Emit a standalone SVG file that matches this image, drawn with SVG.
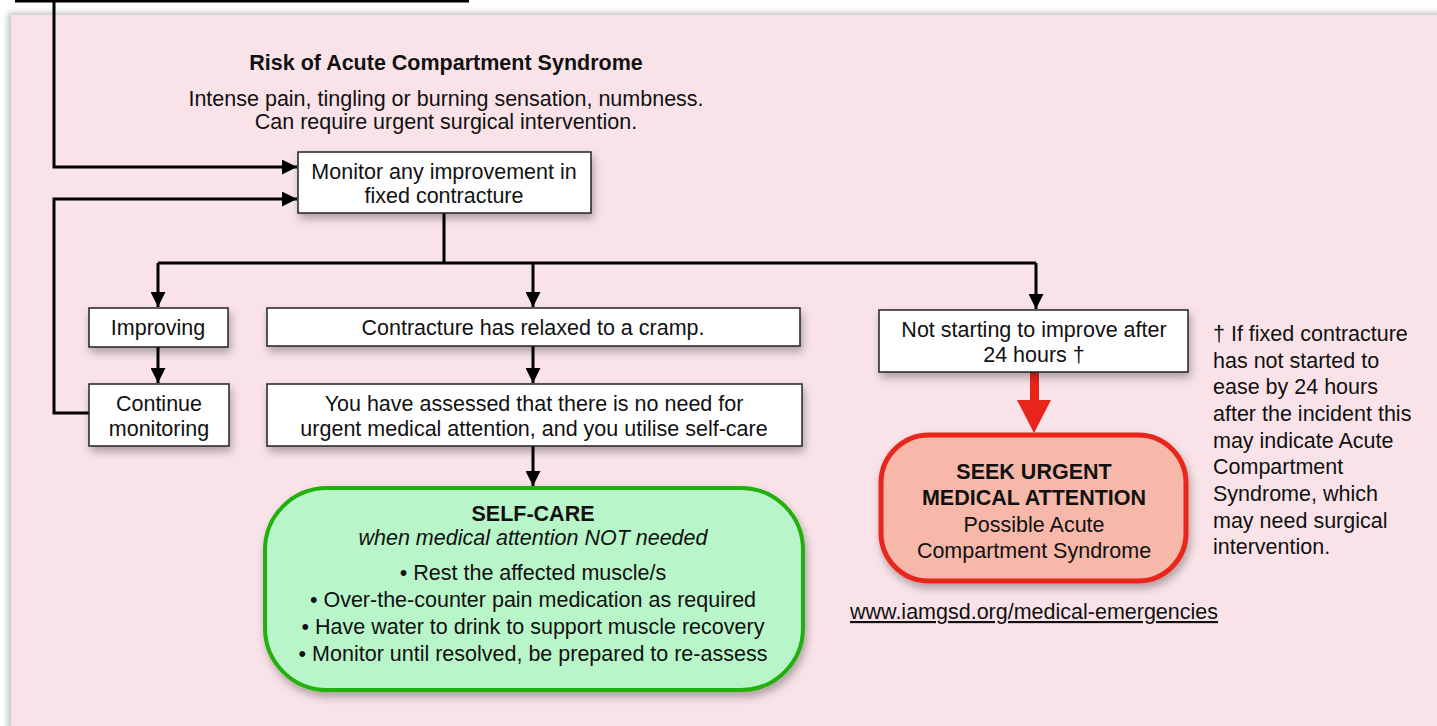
<svg xmlns="http://www.w3.org/2000/svg" width="1437" height="726" viewBox="0 0 1437 726">
<style>
.t{font-family:"Liberation Sans",Arial,sans-serif;font-size:21.5px;fill:#111;text-anchor:middle}
.b{font-weight:bold}
.i{font-style:italic}
.l{text-anchor:start}
.box{fill:#fff;stroke:#222;stroke-width:1.5;filter:url(#sh)}
.ln{fill:none;stroke:#000;stroke-width:3}
</style>
<defs>
<filter id="sh" x="-20%" y="-20%" width="140%" height="160%">
<feDropShadow dx="2" dy="5" stdDeviation="4" flood-color="#000" flood-opacity="0.3"/>
</filter>
<filter id="psh" x="-5%" y="-5%" width="110%" height="110%">
<feDropShadow dx="-3" dy="-2" stdDeviation="3" flood-color="#000" flood-opacity="0.25"/>
</filter>
<marker id="ah" viewBox="0 0 10 10" refX="10" refY="5" markerWidth="5" markerHeight="5" markerUnits="strokeWidth" orient="auto">
<path d="M0,0L10,5L0,10z" fill="#000"/>
</marker>
</defs>
<rect width="1437" height="726" fill="#fff"/>
<rect x="11" y="15" width="1440" height="720" fill="#f9e3e8" filter="url(#psh)"/>

<g id="connectors">
<path class="ln" d="M15,1H469"/>
<path class="ln" d="M54,0V167H297" marker-end="url(#ah)"/>
<path class="ln" d="M89,413H54V199H297" marker-end="url(#ah)"/>
<path class="ln" d="M444,213V263"/>
<path class="ln" d="M158,263H1036"/>
<path class="ln" d="M158,263V307" marker-end="url(#ah)"/>
<path class="ln" d="M533,263V307" marker-end="url(#ah)"/>
<path class="ln" d="M1036,263V309" marker-end="url(#ah)"/>
<path class="ln" d="M158,347V383" marker-end="url(#ah)"/>
<path class="ln" d="M533,346V383" marker-end="url(#ah)"/>
<path class="ln" d="M533,446V486" marker-end="url(#ah)"/>
<path d="M1030,372H1039V400H1051L1034,433L1017,400H1030Z" fill="#e8251a"/>
</g>

<g id="risk-text">
<text class="t b" x="446" y="70">Risk of Acute Compartment Syndrome</text>
<text class="t" x="446" y="106">Intense pain, tingling or burning sensation, numbness.</text>
<text class="t" x="446" y="129">Can require urgent surgical intervention.</text>
</g>

<g id="monitor">
<rect class="box" x="298" y="152" width="293" height="61"/>
<text class="t" x="444" y="179">Monitor any improvement in</text>
<text class="t" x="444" y="203">fixed contracture</text>
</g>

<g id="improving">
<rect class="box" x="89" y="308" width="139" height="39"/>
<text class="t" x="158" y="335">Improving</text>
</g>

<g id="continue">
<rect class="box" x="89" y="384" width="140" height="62"/>
<text class="t" x="159" y="411">Continue</text>
<text class="t" x="159" y="436">monitoring</text>
</g>

<g id="relaxed">
<rect class="box" x="267" y="308" width="533" height="38"/>
<text class="t" x="533" y="335">Contracture has relaxed to a cramp.</text>
</g>

<g id="assessed">
<rect class="box" x="267" y="384" width="535" height="62"/>
<text class="t" x="534" y="411">You have assessed that there is no need for</text>
<text class="t" x="534" y="436">urgent medical attention, and you utilise self-care</text>
</g>

<g id="not-improving">
<rect class="box" x="879" y="310" width="309" height="62"/>
<text class="t" x="1034" y="337">Not starting to improve after</text>
<text class="t" x="1034" y="362">24 hours †</text>
</g>

<g id="self-care">
<rect x="265" y="488" width="538" height="202" rx="62" fill="#b8f5c8" stroke="#22b00b" stroke-width="4" filter="url(#sh)"/>
<text class="t b" x="533" y="521">SELF-CARE</text>
<text class="t i" x="533" y="545">when medical attention NOT needed</text>
<text class="t" x="533" y="580">• Rest the affected muscle/s</text>
<text class="t" x="533" y="607">• Over-the-counter pain medication as required</text>
<text class="t" x="533" y="634">• Have water to drink to support muscle recovery</text>
<text class="t" x="533" y="661">• Monitor until resolved, be prepared to re-assess</text>
</g>

<g id="seek-urgent">
<rect x="881" y="435" width="305" height="146" rx="48" fill="#f7b7a9" stroke="#e8251a" stroke-width="5" filter="url(#sh)"/>
<text class="t b" x="1034" y="479">SEEK URGENT</text>
<text class="t b" x="1034" y="505">MEDICAL ATTENTION</text>
<text class="t" x="1034" y="532">Possible Acute</text>
<text class="t" x="1034" y="558">Compartment Syndrome</text>
</g>

<g id="url">
<text class="t" x="1034" y="619" text-decoration="underline">www.iamgsd.org/medical-emergencies</text>
</g>

<g id="footnote">
<text class="t l" x="1213" y="341">† If fixed contracture</text>
<text class="t l" x="1213" y="368">has not started to</text>
<text class="t l" x="1213" y="394">ease by 24 hours</text>
<text class="t l" x="1213" y="421">after the incident this</text>
<text class="t l" x="1213" y="448">may indicate Acute</text>
<text class="t l" x="1213" y="474">Compartment</text>
<text class="t l" x="1213" y="501">Syndrome, which</text>
<text class="t l" x="1213" y="528">may need surgical</text>
<text class="t l" x="1213" y="554">intervention.</text>
</g>
</svg>
